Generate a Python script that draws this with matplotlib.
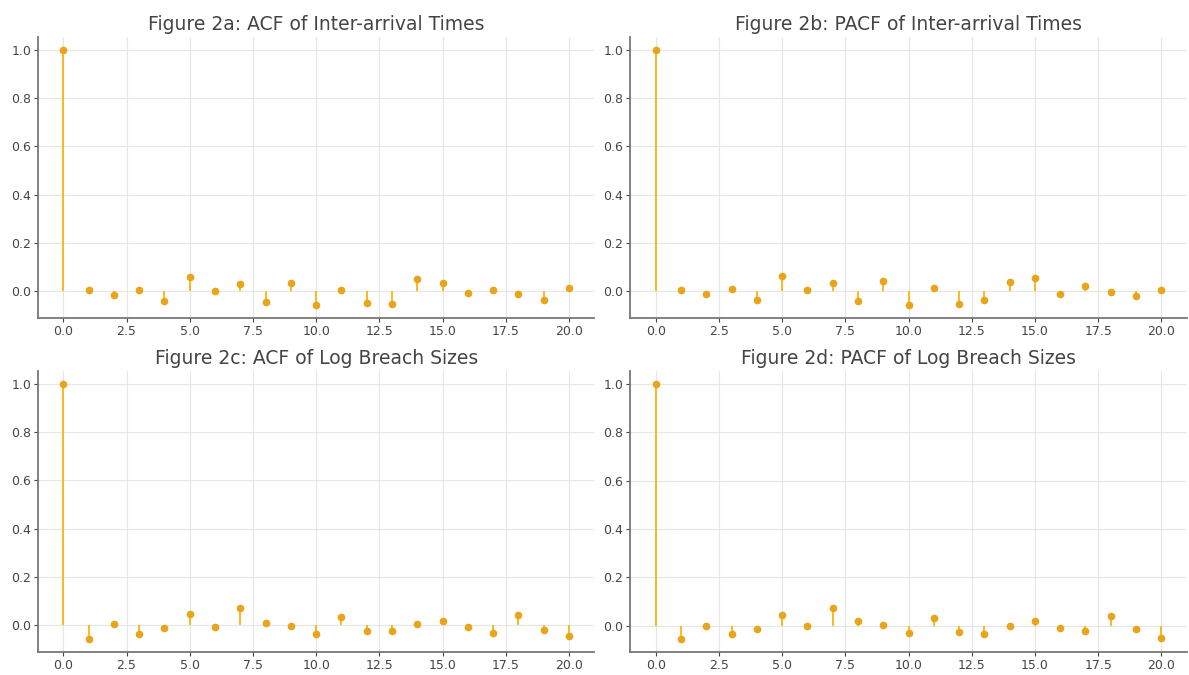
import numpy as np
import matplotlib.pyplot as plt

lags = np.arange(21)

acf_inter = [1.0, 0.005, -0.013, 0.005, -0.040, 0.058, 0.003, 0.031, -0.045, 0.035, -0.057,
             0.005, -0.047, -0.054, 0.050, 0.036, -0.008, 0.005, -0.009, -0.034, 0.016]
pacf_inter = [1.0, 0.003, -0.011, 0.007, -0.038, 0.063, 0.003, 0.034, -0.042, 0.043, -0.058,
              0.013, -0.055, -0.038, 0.040, 0.053, -0.012, 0.020, -0.004, -0.022, 0.006]
acf_log = [1.0, -0.060, 0.002, -0.039, -0.013, 0.045, -0.010, 0.068, 0.007, -0.003, -0.037,
           0.031, -0.024, -0.027, 0.005, 0.014, -0.010, -0.032, 0.040, -0.023, -0.047]
pacf_log = [1.0, -0.057, 0.0, -0.034, -0.014, 0.045, -0.003, 0.071, 0.018, 0.003, -0.031,
            0.032, -0.027, -0.034, 0.0, 0.017, -0.011, -0.024, 0.040, -0.016, -0.051]

titles = ['Figure 2a: ACF of Inter-arrival Times',
          'Figure 2b: PACF of Inter-arrival Times',
          'Figure 2c: ACF of Log Breach Sizes',
          'Figure 2d: PACF of Log Breach Sizes']
series = [acf_inter, pacf_inter, acf_log, pacf_log]

stem_color = '#FFB81C'
marker_color = '#E8A51A'

fig, axes = plt.subplots(2, 2, figsize=(11.89, 6.75), dpi=100)
fig.subplots_adjust(left=0.032, right=0.998, top=0.945, bottom=0.034,
                    wspace=0.065, hspace=0.19)

for ax, vals, title in zip(axes.flat, series, titles):
    markerline, stemlines, baseline = ax.stem(lags, vals)
    plt.setp(stemlines, color=stem_color, linewidth=1.4)
    plt.setp(markerline, color=marker_color, markersize=4.5)
    baseline.set_visible(False)
    ax.set_title(title, fontsize=13.5, color='#444444', pad=5)
    ax.grid(True, color='#e6e6e6', linewidth=0.8)
    ax.set_axisbelow(True)
    for s in ['top', 'right']:
        ax.spines[s].set_visible(False)
    for s in ['left', 'bottom']:
        ax.spines[s].set_color('#777777')
        ax.spines[s].set_linewidth(1.3)
    ax.tick_params(labelsize=9, colors='#444444', length=3, pad=2)

fig.savefig('out.png')
